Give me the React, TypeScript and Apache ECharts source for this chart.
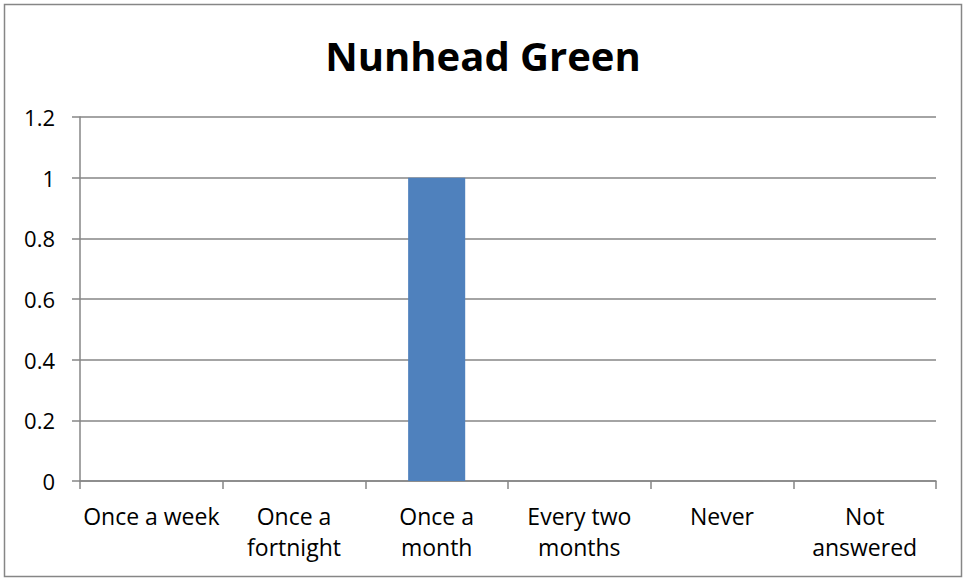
import React, { useEffect, useRef } from "react";
import * as echarts from "echarts";

const title = "Nunhead Green";
const categories = ["Once a week", "Once a\nfortnight", "Once a\nmonth", "Every two\nmonths", "Never", "Not\nanswered"];
const values = [0, 0, 1, 0, 0, 0];
const yMin = 0;
const yMax = 1.2;
const yStep = 0.2;

export default function App() {
  const ref = useRef<HTMLDivElement>(null);
  useEffect(() => {
    const chart = echarts.init(ref.current!, null, { renderer: "svg" });
    const font = "'Open Sans', sans-serif";
    chart.setOption({
      animation: false,
      backgroundColor: "#ffffff",
      title: {
        text: title,
        left: "center",
        top: 30,
        textStyle: { fontFamily: font, fontWeight: "bold", fontSize: 40, color: "#000" },
      },
      graphic: [
        {
          type: "rect",
          shape: { x: 4.5, y: 4.5, width: 957, height: 572 },
          style: { fill: "none", stroke: "#868686", lineWidth: 1.5 },
          silent: true,
        },
      ],
      grid: { left: 80, right: 30, top: 117, bottom: 100 },
      xAxis: {
        type: "category",
        data: categories,
        boundaryGap: true,
        axisLine: { show: true, lineStyle: { color: "#868686", width: 1.5 } },
        axisTick: { show: true, length: 8, lineStyle: { color: "#868686", width: 1.5 } },
        axisLabel: {
          interval: 0,
          margin: 19,
          color: "#000",
          fontFamily: font,
          fontSize: 23,
          lineHeight: 31,
        },
      },
      yAxis: {
        type: "value",
        min: yMin,
        max: yMax,
        interval: yStep,
        axisLine: { show: true, lineStyle: { color: "#868686", width: 1.5 } },
        axisTick: { show: true, length: 8, lineStyle: { color: "#868686", width: 1.5 } },
        splitLine: { show: true, lineStyle: { color: "#868686", width: 1.5 } },
        axisLabel: {
          margin: 25,
          color: "#000",
          fontFamily: font,
          fontSize: 22,
          formatter: (v: number) => String(parseFloat(v.toFixed(1))),
        },
      },
      series: [
        {
          type: "bar",
          data: values,
          barWidth: "40%",
          itemStyle: { color: "#4F81BD" },
        },
      ],
    });
    return () => chart.dispose();
  }, []);
  return <div ref={ref} style={{ position: "fixed", left: 0, top: 0, width: 966, height: 581 }} />;
}
